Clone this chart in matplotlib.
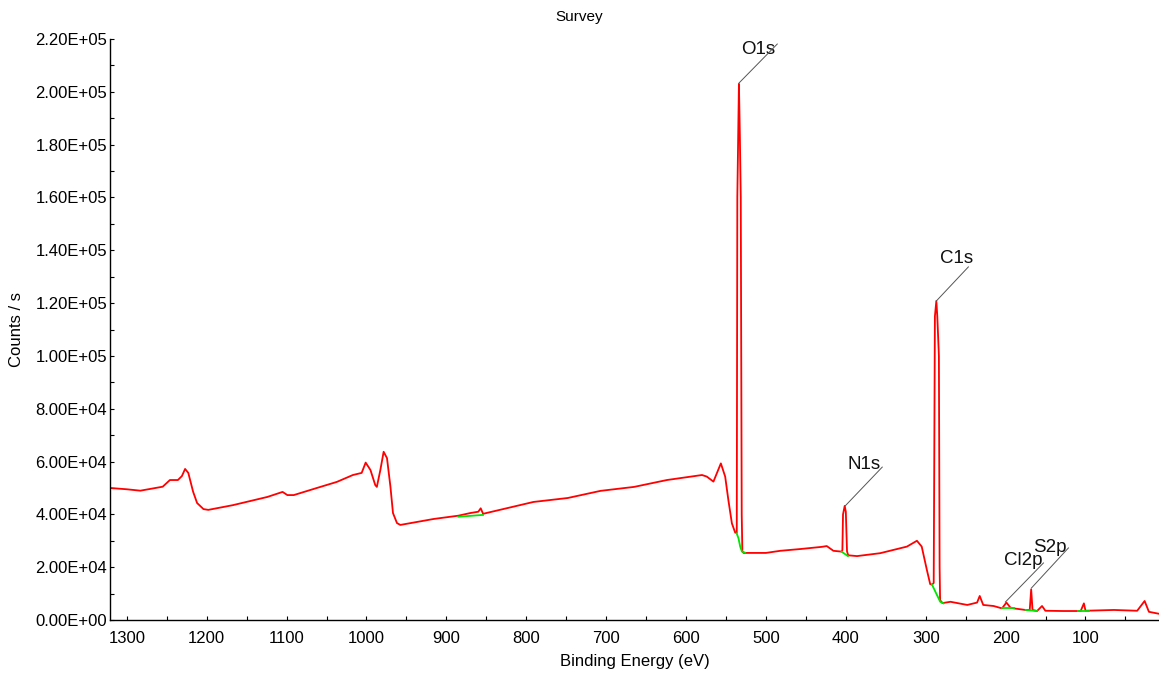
import matplotlib
matplotlib.use("Agg")
import matplotlib.pyplot as plt
from matplotlib.ticker import MultipleLocator, FuncFormatter

plt.rcParams['font.family'] = ['Liberation Sans', 'DejaVu Sans']

# survey spectrum (binding energy in eV, counts/s)
be = [1321, 1300, 1283, 1262, 1255, 1246, 1236, 1231, 1227, 1223, 1217, 1212, 1204,
      1198, 1167, 1124, 1105, 1099, 1091, 1062, 1037, 1017, 1006, 1001, 995, 989,
      987, 982.6, 978.5, 974.3, 970, 966.8, 961.8, 957.6, 916, 885, 870, 860, 857,
      854, 850, 791, 748, 707, 665, 624, 580, 574, 565.7, 556.4, 551, 547, 542.6,
      538.5, 536.5, 535.8, 533.8, 532.6, 531.5, 530.3, 529.5, 528, 500, 482, 456,
      430, 423.9, 415.5, 405.4, 404.3, 403.5, 401.4, 400, 398.5, 397, 386, 357,
      323.5, 311, 305, 298.5, 294.4, 292.3, 290, 289.3, 288.5, 286.7, 285.5, 283.5,
      282.6, 282, 279, 269, 248, 235.7, 232.4, 228, 215, 204.5, 199, 194, 189.8,
      175, 169.8, 168, 166.3, 160.6, 154.4, 150.2, 128, 106, 102, 100, 64.5, 35.3,
      26, 20.6, 7]
counts = [50000, 49500, 48970, 50100, 50480, 53000, 53000, 54500, 57200, 55700, 48600,
          44300, 42000, 41700, 43500, 46600, 48500, 47300, 47300, 50000, 52300, 54900,
          55700, 59600, 56800, 51100, 50400, 56800, 63700, 61300, 50500, 40500, 36700,
          36000, 38250, 39500, 40500, 41000, 42300, 40200, 40500, 44700, 46200, 48900,
          50400, 53000, 54900, 54300, 52400, 59300, 54300, 45400, 36600, 33100, 33000,
          160000, 203000, 183000, 160000, 40000, 26000, 25400, 25400, 26200, 26900,
          27700, 28000, 26200, 25900, 26500, 40000, 43200, 41000, 26000, 24500, 24200,
          25300, 27800, 30000, 27800, 18900, 13600, 13400, 14000, 60000, 115000,
          120800, 115000, 100000, 20000, 7500, 6400, 6900, 5700, 6600, 9100, 5700,
          5300, 4400, 6600, 4700, 4400, 3800, 3800, 11600, 3800, 3400, 5300, 3500,
          3400, 3400, 6300, 3500, 3800, 3500, 7200, 3100, 2300]

# background segments under the peaks (green)
bg_be = [[885, 854], [536.6, 534.3, 532.2, 530, 526], [405.4, 397.4],
         [292.3, 286, 281.8, 277.6], [204.5, 190], [175, 160.6], [108.8, 96.2]]
bg_counts = [[39100, 39800], [32800, 30900, 27800, 25900, 25500], [25900, 24200],
             [13500, 9500, 6900, 6300], [4400, 4400], [3800, 3400], [3400, 3400]]

# peak labels: name, peak top, end of leader line, text corner (bottom right)
peak_names = ['O1s', 'C1s', 'N1s', 'Cl2p', 'S2p']
peak_be = [533.5, 286.7, 400.8, 200.3, 167.7]
peak_counts = [203400, 120800, 43200, 6800, 12100]
lead_be = [485.8, 246.6, 354.4, 152.6, 121.3]
lead_counts = [218100, 133700, 57900, 21600, 27300]
text_be = [488.3, 240.4, 356.9, 153.9, 123.8]
text_counts = [212800, 133700, 55700, 19300, 24200]

fig = plt.figure(figsize=(11.59, 6.84), dpi=100)
ax = fig.add_axes([110 / 1159, 64 / 684, 1 - 110 / 1159, 581 / 684])

ax.plot(be, counts, color='#ff0000', lw=1.3, zorder=2)
for bx, by in zip(bg_be, bg_counts):
    ax.plot(bx, by, color='#00e600', lw=1.3, zorder=3)

for name, px, py, lx, ly, tx, ty in zip(peak_names, peak_be, peak_counts,
                                        lead_be, lead_counts, text_be, text_counts):
    ax.plot([px, lx], [py, ly], color='#555555', lw=0.7, zorder=4)
    ax.text(tx, ty, name, ha='right', va='bottom', fontsize=13.5, color='#111111')

ax.set_xlim(1321, 8)
ax.set_ylim(0, 220000)

ax.xaxis.set_major_locator(MultipleLocator(100))
ax.xaxis.set_minor_locator(MultipleLocator(50))
ax.yaxis.set_major_locator(MultipleLocator(20000))
ax.yaxis.set_minor_locator(MultipleLocator(10000))
ax.yaxis.set_major_formatter(FuncFormatter(lambda v, p: '{:.2E}'.format(v)))

ax.tick_params(axis='both', which='both', direction='in', length=3, width=0.8,
               labelsize=12, colors='black')
ax.tick_params(axis='y', pad=2)
ax.tick_params(axis='x', pad=8)

for s in ['top', 'right']:
    ax.spines[s].set_visible(False)
for s in ['left', 'bottom']:
    ax.spines[s].set_linewidth(1.0)

ax.set_xlabel('Binding Energy (eV)', fontsize=12, labelpad=6)
ax.set_ylabel('Counts / s', fontsize=12)
ax.yaxis.set_label_coords(-86 / 1049, 0.5)
fig.suptitle('Survey', fontsize=11, x=0.5, y=0.985)

fig.savefig('out.png', dpi=100)
